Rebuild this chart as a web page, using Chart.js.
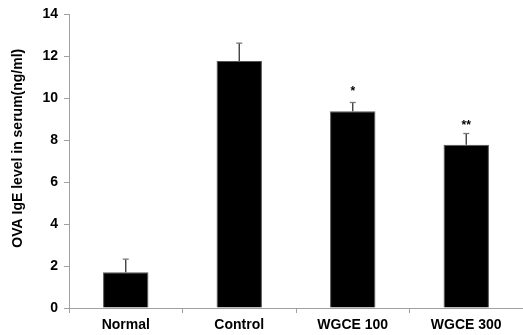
<!DOCTYPE html>
<html lang="en">
<head>
  <meta charset="UTF-8">
  <title>OVA IgE</title>
  <script src="https://cdn.jsdelivr.net/npm/chart.js@4/dist/chart.umd.min.js"></script>
  <style>
    html, body { margin: 0; padding: 0; background: #fff; }
    #wrap { width: 523px; height: 335px; }
  </style>
</head>
<body>
  <div id="wrap"><canvas id="igeChart" width="523" height="335"></canvas></div>

  <script>
    const groups = ["Normal", "Control", "WGCE 100", "WGCE 300"];
    const igeMeans = [1.71, 11.78, 9.38, 7.78];
    const igeErrors = [0.62, 0.85, 0.42, 0.54];
    const sigMarks = ["", "", "*", "**"];
    const sigLevel = [0, 0, 10.5, 8.9];
    const yTicks = [0, 2, 4, 6, 8, 10, 12, 14];
    const yTitle = 'OVA IgE level in serum(ng/ml)';

    const fontFam = "'Liberation Sans', Arial, sans-serif";

    // upper error bars + significance stars, positioned through the scales
    const errorBars = {
      id: 'errorBars',
      afterDatasetsDraw(chart) {
        const ctx = chart.ctx;
        const x = chart.scales.x, y = chart.scales.y;
        ctx.save();
        igeMeans.forEach((v, i) => {
          const cx = x.getPixelForValue(i);
          const yTop = y.getPixelForValue(v);
          const yErr = y.getPixelForValue(v + igeErrors[i]);
          ctx.strokeStyle = '#333';
          ctx.lineWidth = 1.3;
          ctx.beginPath();
          ctx.moveTo(cx, yTop);
          ctx.lineTo(cx, yErr);
          ctx.stroke();
          ctx.strokeStyle = '#777';
          ctx.beginPath();
          ctx.moveTo(cx - 3, yErr);
          ctx.lineTo(cx + 3, yErr);
          ctx.stroke();

          if (sigMarks[i]) {
            ctx.fillStyle = '#000';
            ctx.font = 'bold 12px ' + fontFam;
            ctx.textAlign = 'center';
            ctx.textBaseline = 'top';
            ctx.fillText(sigMarks[i], cx, y.getPixelForValue(sigLevel[i]) - 2);
          }
        });

        // axis title sits a bit above the middle of the axis in the original
        const mid = (y.top + y.bottom) / 2 - 13;
        ctx.translate(18, mid);
        ctx.rotate(-Math.PI / 2);
        ctx.font = 'bold 14px ' + fontFam;
        ctx.fillStyle = '#000';
        ctx.textAlign = 'center';
        ctx.textBaseline = 'middle';
        ctx.fillText(yTitle, 0, 0);
        ctx.restore();
      }
    };

    new Chart("igeChart", {
      type: "bar",
      data: {
        labels: groups,
        datasets: [{
          data: igeMeans,
          backgroundColor: "#000",
          borderColor: "#555",
          borderWidth: 1,
          categoryPercentage: 1,
          barPercentage: 0.4
        }]
      },
      options: {
        responsive: false,
        animation: false,
        layout: { padding: { top: 7, right: 0, left: 0, bottom: 0 } },
        plugins: { legend: { display: false }, tooltip: { enabled: false } },
        scales: {
          x: {
            grid: { display: true, drawOnChartArea: false, tickLength: 5, color: '#a0a0a0', offset: true },
            border: { color: '#a0a0a0' },
            ticks: { color: '#000', font: { family: fontFam, size: 14, weight: 'bold' }, padding: 4 },
            afterFit(s) { s.height = 27; }
          },
          y: {
            min: 0,
            max: 14,
            afterBuildTicks(s) { s.ticks = yTicks.map(v => ({ value: v })); },
            grid: { display: true, drawOnChartArea: false, tickLength: 5, color: '#a0a0a0' },
            border: { color: '#a0a0a0' },
            ticks: { color: '#000', font: { family: fontFam, size: 14, weight: 'bold' }, padding: 6 },
            afterFit(s) { s.width = 69; }
          }
        }
      },
      plugins: [errorBars]
    });
  </script>
</body>
</html>
